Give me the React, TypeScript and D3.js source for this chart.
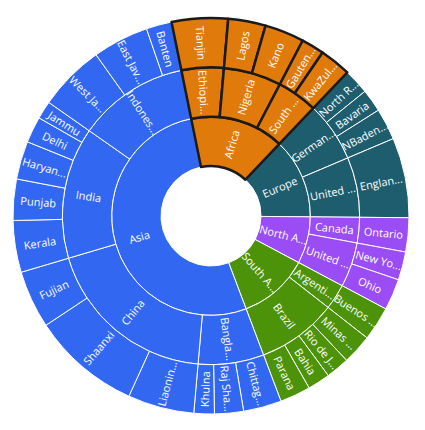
import * as d3 from "d3";

// continents, inner ring (labels as shown on the chart)
const continents = ["Africa", "Europe", "North A...", "South A...", "Asia"];
const continentColors = ["#E07A0B", "#1D5D6E", "#9A4DF5", "#4C930A", "#3267F2"];
const selectedContinent = "Africa";

// countries, middle ring
const countries = [
  "Ethiopi...", "Nigeria", "South ...",
  "German...", "United ...",
  "Canada", "United ...",
  "Argenti...", "Brazil",
  "Bangla...", "China", "India", "Indones...",
];
const countryContinent = [0, 0, 0, 1, 1, 2, 2, 3, 3, 4, 4, 4, 4];

// states, outer ring
const states = [
  "Tianjin", "Lagos", "Kano", "Gauten...", "KwaZul...",
  "North R...", "Bavaria", "NBaden...", "Englan...",
  "Ontario", "New Yo...", "Ohio",
  "Buenos ...", "Minas ...", "Rio de J...", "Bahia", "Parana",
  "Chittag...", "Raj Sha...", "Khulna",
  "Liaonin...", "Shaanxi", "Fujian",
  "Kerala", "Punjab", "Haryan...", "Delhi", "Jammu",
  "West Ja...", "East Jav...", "Banten",
];
const stateCountry = [
  0, 1, 1, 2, 2,
  3, 3, 3, 4,
  5, 6, 6,
  7, 8, 8, 8, 8,
  9, 9, 9,
  10, 10, 10,
  11, 11, 11, 11, 11,
  12, 12, 12,
];
// population (millions)
const population = [
  16.5, 11, 11.6, 6.7, 9.2,
  7.5, 6.7, 9.3, 23.5,
  10, 8.3, 9.2,
  10, 8.8, 6.9, 6.6, 9,
  11.2, 8.5, 6,
  19.5, 32, 17,
  15.2, 12.1, 11.2, 7.7, 5.3,
  19.5, 16.5, 7.5,
];

const width = 425;
const height = 430;
const cx = 211;
const cy = 216;
const innerRadius = 50;
const outerRadius = 198;
const startAngle = (-11.5 * Math.PI) / 180;

type Node = { name: string; colorIndex?: number; value?: number; children?: Node[] };

function buildTree(): Node {
  return {
    name: "root",
    children: continents.map((c, ci) => ({
      name: c,
      colorIndex: ci,
      children: countries
        .map((n, i) => ({ n, i }))
        .filter((d) => countryContinent[d.i] === ci)
        .map(({ n, i }) => ({
          name: n,
          children: states
            .map((s, j) => ({ s, j }))
            .filter((d) => stateCountry[d.j] === i)
            .map(({ s, j }) => ({ name: s, value: population[j] })),
        })),
    })),
  };
}

export default function App() {
  const root = d3.hierarchy<Node>(buildTree()).sum((d) => d.value ?? 0);
  d3.partition<Node>().size([2 * Math.PI, 4])(root);

  const radius = d3.scaleLinear().domain([1, 4]).range([innerRadius, outerRadius]);

  const arc = d3
    .arc<d3.HierarchyRectangularNode<Node>>()
    .startAngle((d) => d.x0 + startAngle)
    .endAngle((d) => d.x1 + startAngle)
    .innerRadius((d) => radius(d.y0))
    .outerRadius((d) => radius(d.y1));

  const nodes = (root as d3.HierarchyRectangularNode<Node>).descendants().filter((d) => d.depth > 0);
  const continentOf = (d: d3.HierarchyRectangularNode<Node>) =>
    d.ancestors().find((a) => a.depth === 1)!;
  const isSelected = (d: d3.HierarchyRectangularNode<Node>) =>
    continentOf(d).data.name === selectedContinent;

  const normal = nodes.filter((d) => !isSelected(d));
  const selected = nodes.filter((d) => isSelected(d));

  const label = (d: d3.HierarchyRectangularNode<Node>) => {
    const a = (d.x0 + d.x1) / 2 + startAngle;
    const r = radius((d.y0 + d.y1) / 2);
    const x = cx + r * Math.sin(a);
    const y = cy - r * Math.cos(a);
    let deg = (a * 180) / Math.PI;
    deg = ((deg % 360) + 360) % 360;
    const rot = deg < 180 ? deg - 90 : deg + 90;
    return (
      <text
        key={"t" + d.depth + d.data.name + d.x0}
        transform={`translate(${x},${y}) rotate(${rot})`}
        textAnchor="middle"
        dominantBaseline="central"
        fill="#fff"
        fontSize={11}
        fontFamily="'Segoe UI', 'Open Sans', sans-serif"
      >
        {d.data.name}
      </text>
    );
  };

  const path = (d: d3.HierarchyRectangularNode<Node>, sel: boolean) => (
    <path
      key={"p" + d.depth + d.data.name + d.x0}
      d={arc(d) ?? ""}
      transform={`translate(${cx},${cy})`}
      fill={continentColors[continentOf(d).data.colorIndex!]}
      stroke={sel ? "#1a1a1a" : "#fff"}
      strokeWidth={sel ? 2.5 : 1}
      strokeLinejoin="round"
    />
  );

  return (
    <svg
      width={width}
      height={height}
      style={{ position: "absolute", left: 0, top: 0, background: "#fff" }}
    >
      <g>{normal.map((d) => path(d, false))}</g>
      <g>{selected.map((d) => path(d, true))}</g>
      <g>{nodes.map(label)}</g>
    </svg>
  );
}
